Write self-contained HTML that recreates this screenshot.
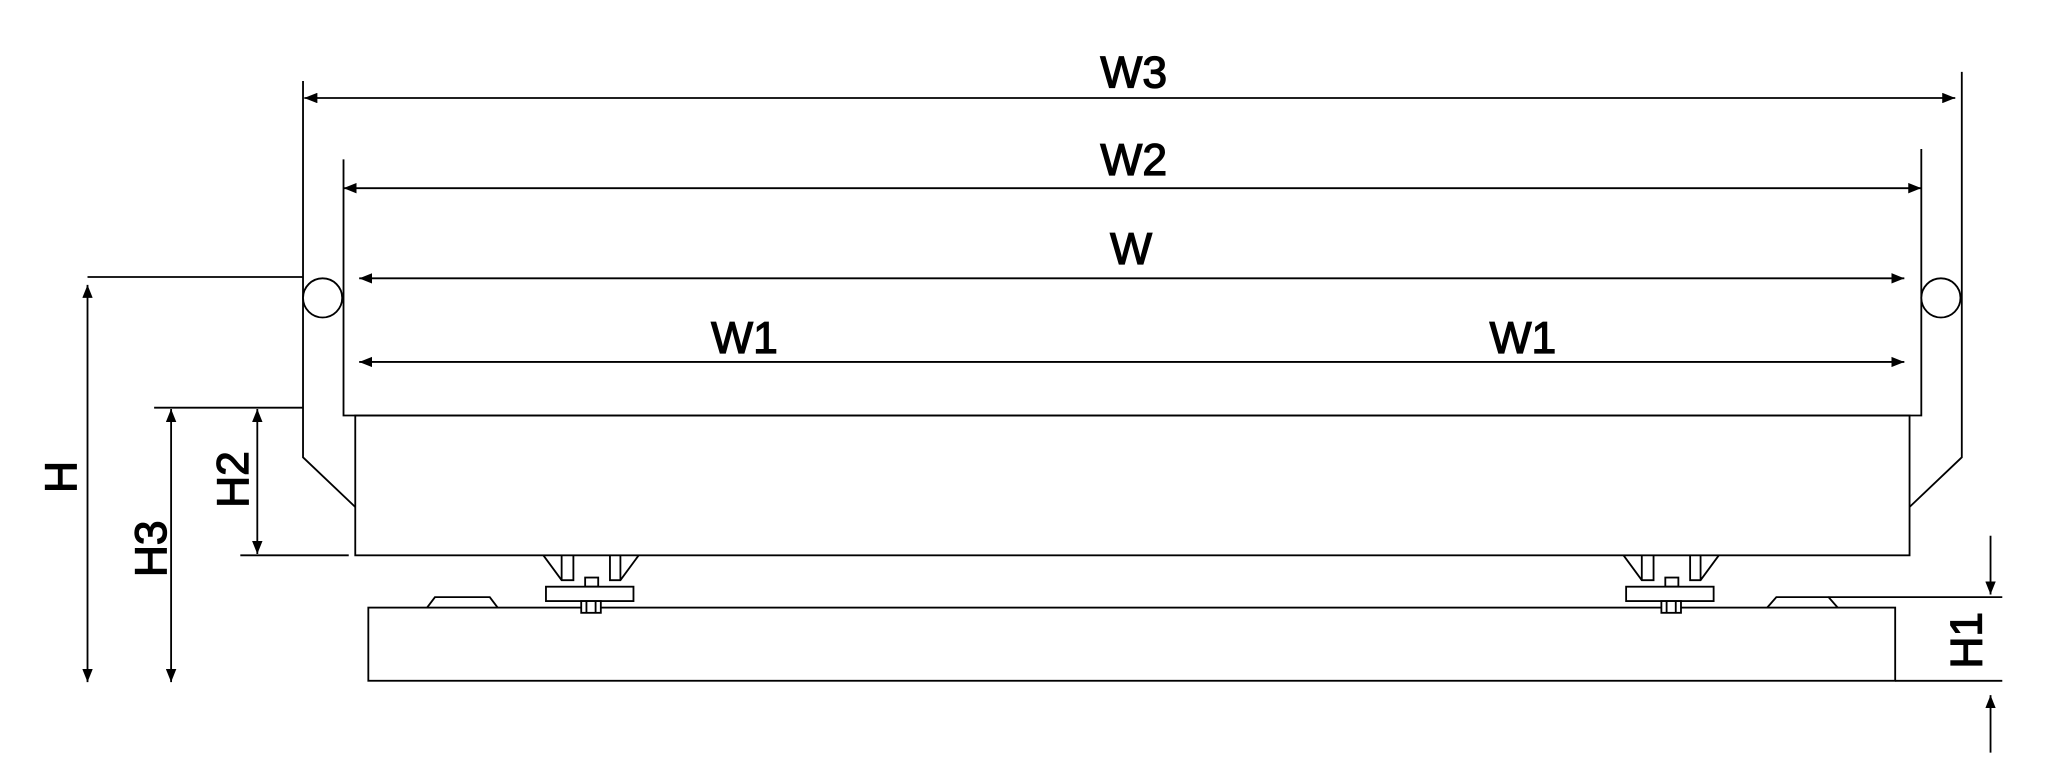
<!DOCTYPE html>
<html><head><meta charset="utf-8"><style>
html,body{margin:0;padding:0;background:#fff;}
svg{display:block;}
text{font-family:"Liberation Sans",sans-serif;font-size:34px;fill:#000;stroke:#000;stroke-width:1.0;}
</style></head><body>
<svg width="2048" height="784" viewBox="0 0 1568 600" preserveAspectRatio="none" xmlns="http://www.w3.org/2000/svg">
<defs>
<marker id="a" viewBox="0 0 10 8" refX="10" refY="4" markerWidth="10" markerHeight="8" markerUnits="userSpaceOnUse" orient="auto-start-reverse"><path d="M0,0 L10,4 L0,8 Z" fill="#000"/></marker>
<g id="foot" fill="none" stroke="#000" stroke-width="1.4">
<path d="M416,425 L430,444 L439,444 L439,425"/>
<path d="M430,425 L430,444"/>
<path d="M489,425 L475,444 L467,444 L467,425"/>
<path d="M475,425 L475,444"/>
<rect x="448" y="442" width="10" height="7" fill="#fff"/>
<rect x="418" y="449" width="67" height="11" fill="#fff"/>
<rect x="445" y="460" width="15" height="9" fill="#fff"/>
<path d="M449,460 L449,469 M456,460 L456,469"/>
</g>
</defs>
<g fill="none" stroke="#000" stroke-width="1.4">
<path d="M232,62 L232,350 L272,388"/>
<path d="M1502,55 L1502,350 L1462,388"/>
<path d="M263,122 L263,318 L1471,318 L1471,114"/>
<rect x="272" y="318" width="1190" height="107"/>
<circle cx="247" cy="228" r="15" fill="#fff"/>
<circle cx="1486" cy="228" r="15" fill="#fff"/>
<rect x="282" y="465" width="1169" height="56"/>
<path d="M327,465 L333,457 L375,457 L381,465"/>
<path d="M1353,465 L1360,457 L1400,457 L1407,465"/>
<line x1="233" y1="75" x2="1497" y2="75" marker-start="url(#a)" marker-end="url(#a)"/>
<line x1="263" y1="144" x2="1471" y2="144" marker-start="url(#a)" marker-end="url(#a)"/>
<line x1="275" y1="213" x2="1458" y2="213" marker-start="url(#a)" marker-end="url(#a)"/>
<line x1="275" y1="277" x2="1458" y2="277" marker-start="url(#a)" marker-end="url(#a)"/>
<line x1="67" y1="212" x2="232" y2="212"/>
<line x1="67" y1="218" x2="67" y2="522" marker-start="url(#a)" marker-end="url(#a)"/>
<line x1="118" y1="312" x2="232" y2="312"/>
<line x1="131" y1="313" x2="131" y2="522" marker-start="url(#a)" marker-end="url(#a)"/>
<line x1="197" y1="313" x2="197" y2="424" marker-start="url(#a)" marker-end="url(#a)"/>
<line x1="184" y1="425" x2="267" y2="425"/>
<line x1="1400" y1="457" x2="1533" y2="457"/>
<line x1="1451" y1="521" x2="1533" y2="521"/>
<line x1="1524" y1="410" x2="1524" y2="455" marker-end="url(#a)"/>
<line x1="1524" y1="576" x2="1524" y2="532" marker-end="url(#a)"/>
</g>
<use href="#foot"/>
<use href="#foot" transform="translate(827,0)"/>
<text x="868" y="67" text-anchor="middle">W3</text>
<text x="868" y="134" text-anchor="middle">W2</text>
<text x="866" y="202" text-anchor="middle">W</text>
<text x="570" y="270" text-anchor="middle">W1</text>
<text x="1166" y="270" text-anchor="middle">W1</text>
<text transform="translate(58,365) rotate(-90)" text-anchor="middle">H</text>
<text transform="translate(127,420) rotate(-90)" text-anchor="middle">H3</text>
<text transform="translate(190,367) rotate(-90)" text-anchor="middle">H2</text>
<text transform="translate(1517,490) rotate(-90)" text-anchor="middle">H1</text>
</svg>
</body></html>
